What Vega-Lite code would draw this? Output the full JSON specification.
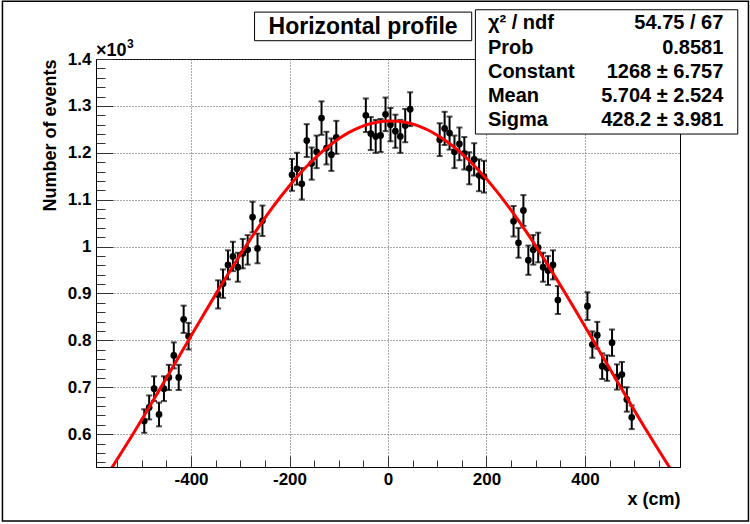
{
  "$schema": "https://vega.github.io/schema/vega-lite/v6.json",
  "width": 584,
  "height": 408,
  "autosize": "none",
  "padding": {"left": 96, "top": 59, "right": 70, "bottom": 57},
  "background": "white",
  "config": {"view": {"stroke": "black", "strokeWidth": 1}, "font": "Liberation Sans"},
  "datasets": {
    "hist": [
      {"x": -495, "y": 628, "err": 25.1}, {"x": -485, "y": 657, "err": 25.6}, {"x": -475, "y": 697, "err": 26.4}, {"x": -465, "y": 642, "err": 25.3}, {"x": -455, "y": 697, "err": 26.4},
      {"x": -445, "y": 721, "err": 26.9}, {"x": -435, "y": 768, "err": 27.7}, {"x": -425, "y": 721, "err": 26.9}, {"x": -415, "y": 845, "err": 29.1}, {"x": -405, "y": 809, "err": 28.4},
      {"x": -345, "y": 898, "err": 30.0}, {"x": -335, "y": 921, "err": 30.3}, {"x": -325, "y": 961, "err": 31.0}, {"x": -315, "y": 979, "err": 31.3}, {"x": -305, "y": 956, "err": 30.9},
      {"x": -295, "y": 985, "err": 31.4}, {"x": -285, "y": 993, "err": 31.5}, {"x": -275, "y": 1063, "err": 32.6}, {"x": -265, "y": 996, "err": 31.6}, {"x": -255, "y": 1055, "err": 32.5},
      {"x": -195, "y": 1153, "err": 34.0}, {"x": -185, "y": 1166, "err": 34.1}, {"x": -175, "y": 1134, "err": 33.7}, {"x": -165, "y": 1226, "err": 35.0}, {"x": -155, "y": 1177, "err": 34.3},
      {"x": -145, "y": 1202, "err": 34.7}, {"x": -135, "y": 1274, "err": 35.7}, {"x": -125, "y": 1210, "err": 34.8}, {"x": -115, "y": 1196, "err": 34.6}, {"x": -105, "y": 1233, "err": 35.1},
      {"x": -45, "y": 1280, "err": 35.8}, {"x": -35, "y": 1241, "err": 35.2}, {"x": -25, "y": 1235, "err": 35.1}, {"x": -15, "y": 1237, "err": 35.2}, {"x": -5, "y": 1282, "err": 35.8},
      {"x": 5, "y": 1260, "err": 35.5}, {"x": 15, "y": 1246, "err": 35.3}, {"x": 25, "y": 1235, "err": 35.1}, {"x": 35, "y": 1258, "err": 35.5}, {"x": 45, "y": 1293, "err": 36.0},
      {"x": 105, "y": 1228, "err": 35.0}, {"x": 115, "y": 1252, "err": 35.4}, {"x": 125, "y": 1242, "err": 35.2}, {"x": 135, "y": 1202, "err": 34.7}, {"x": 145, "y": 1219, "err": 34.9},
      {"x": 155, "y": 1199, "err": 34.6}, {"x": 165, "y": 1167, "err": 34.2}, {"x": 175, "y": 1186, "err": 34.4}, {"x": 185, "y": 1152, "err": 33.9}, {"x": 195, "y": 1149, "err": 33.9},
      {"x": 255, "y": 1054, "err": 32.5}, {"x": 265, "y": 1008, "err": 31.7}, {"x": 275, "y": 1077, "err": 32.8}, {"x": 285, "y": 971, "err": 31.2}, {"x": 295, "y": 993, "err": 31.5},
      {"x": 305, "y": 998, "err": 31.6}, {"x": 315, "y": 956, "err": 30.9}, {"x": 325, "y": 949, "err": 30.8}, {"x": 335, "y": 961, "err": 31.0}, {"x": 345, "y": 886, "err": 29.8},
      {"x": 405, "y": 873, "err": 29.5}, {"x": 415, "y": 791, "err": 28.1}, {"x": 425, "y": 811, "err": 28.5}, {"x": 435, "y": 745, "err": 27.3}, {"x": 445, "y": 741, "err": 27.2},
      {"x": 455, "y": 795, "err": 28.2}, {"x": 465, "y": 722, "err": 26.9}, {"x": 475, "y": 727, "err": 27.0}, {"x": 485, "y": 674, "err": 26.0}, {"x": 495, "y": 636, "err": 25.2}
    ],
    "fit": [
      {"x": -580, "y": 497.6}, {"x": -560, "y": 529.8}, {"x": -540, "y": 563.0}, {"x": -520, "y": 596.8}, {"x": -500, "y": 631.3}, {"x": -480, "y": 666.4},
      {"x": -460, "y": 701.9}, {"x": -440, "y": 737.7}, {"x": -420, "y": 773.6}, {"x": -400, "y": 809.5}, {"x": -380, "y": 845.2}, {"x": -360, "y": 880.5},
      {"x": -340, "y": 915.4}, {"x": -320, "y": 949.5}, {"x": -300, "y": 982.8}, {"x": -280, "y": 1015.0}, {"x": -260, "y": 1045.9}, {"x": -240, "y": 1075.5},
      {"x": -220, "y": 1103.6}, {"x": -200, "y": 1129.8}, {"x": -180, "y": 1154.2}, {"x": -160, "y": 1176.5}, {"x": -140, "y": 1196.7}, {"x": -120, "y": 1214.5},
      {"x": -100, "y": 1229.9}, {"x": -80, "y": 1242.9}, {"x": -60, "y": 1253.2}, {"x": -40, "y": 1260.8}, {"x": -20, "y": 1265.7}, {"x": 0, "y": 1267.9},
      {"x": 20, "y": 1267.3}, {"x": 40, "y": 1263.9}, {"x": 60, "y": 1257.8}, {"x": 80, "y": 1249.1}, {"x": 100, "y": 1237.6}, {"x": 120, "y": 1223.6},
      {"x": 140, "y": 1207.1}, {"x": 160, "y": 1188.3}, {"x": 180, "y": 1167.2}, {"x": 200, "y": 1144.0}, {"x": 220, "y": 1118.7}, {"x": 240, "y": 1091.7},
      {"x": 260, "y": 1063.0}, {"x": 280, "y": 1032.8}, {"x": 300, "y": 1001.2}, {"x": 320, "y": 968.5}, {"x": 340, "y": 934.9}, {"x": 360, "y": 900.4},
      {"x": 380, "y": 865.3}, {"x": 400, "y": 829.8}, {"x": 420, "y": 794.0}, {"x": 440, "y": 758.1}, {"x": 460, "y": 722.3}, {"x": 480, "y": 686.6},
      {"x": 500, "y": 651.3}, {"x": 520, "y": 616.4}, {"x": 540, "y": 582.2}, {"x": 560, "y": 548.6}, {"x": 580, "y": 515.6}
    ]
  },
  "resolve": {"axis": {"x": "independent", "y": "independent"}},
  "layer": [
    {
      "data": {"values": [{"k": 1}]},
      "mark": {"type": "rect", "fill": "white", "fillOpacity": 0, "stroke": "black", "strokeWidth": 1.5},
      "encoding": {
        "x": {"datum": -783, "type": "quantitative", "scale": {"domain": [-593, 593], "nice": false, "zero": false}, "axis": null},
        "x2": {"datum": 732},
        "y": {"datum": 415, "type": "quantitative", "scale": {"domain": [530, 1400], "nice": false, "zero": false}, "axis": null},
        "y2": {"datum": 1523}
      }
    },
    {
      "data": {"name": "fit"},
      "mark": {"type": "line", "opacity": 0, "clip": true},
      "encoding": {
        "x": {
          "field": "x", "type": "quantitative",
          "scale": {"domain": [-593, 593], "nice": false, "zero": false},
          "axis": {
            "orient": "bottom",
            "values": [-550, -500, -450, -350, -300, -250, -150, -100, -50, 50, 100, 150, 250, 300, 350, 450, 500, 550],
            "tickSize": -7, "tickColor": "#333", "tickWidth": 1,
            "labels": false, "domain": false, "grid": false, "title": null
          }
        },
        "y": {
          "field": "y", "type": "quantitative",
          "scale": {"domain": [530, 1400], "nice": false, "zero": false},
          "axis": {
            "orient": "left",
            "values": [540, 560, 580, 620, 640, 660, 680, 720, 740, 760, 780, 820, 840, 860, 880, 920, 940, 960, 980, 1020, 1040, 1060, 1080, 1120, 1140, 1160, 1180, 1220, 1240, 1260, 1280, 1320, 1340, 1360, 1380],
            "tickSize": -9, "tickColor": "#333", "tickWidth": 1,
            "labels": false, "domain": false, "grid": false, "title": null
          }
        }
      }
    },
    {
      "data": {"name": "hist"},
      "mark": {"type": "errorbar", "color": "black", "clip": true, "ticks": {"size": 6, "thickness": 2, "color": "black"}, "rule": {"strokeWidth": 2, "color": "black"}},
      "encoding": {
        "x": {"field": "x", "type": "quantitative", "scale": {"domain": [-593, 593], "nice": false, "zero": false}, "axis": null},
        "y": {"field": "y", "type": "quantitative", "scale": {"domain": [530, 1400], "nice": false, "zero": false}, "axis": null},
        "yError": {"field": "err"}
      }
    },
    {
      "data": {"name": "hist"},
      "mark": {"type": "circle", "color": "black", "opacity": 1, "size": 45, "clip": true},
      "encoding": {
        "x": {
          "field": "x", "type": "quantitative",
          "scale": {"domain": [-593, 593], "nice": false, "zero": false},
          "axis": {
            "orient": "bottom",
            "values": [-400, -200, 0, 200, 400],
            "tickSize": -11, "tickColor": "#333", "tickWidth": 1,
            "grid": true, "gridDash": [1, 2], "gridColor": "#555", "gridWidth": 1,
            "labelExpr": "'' + datum.value",
            "labelFont": "Liberation Sans", "labelFontSize": 17, "labelFontWeight": "bold", "labelColor": "black",
            "labelPadding": 15, "labelOverlap": false, "labelFlush": false,
            "domainColor": "black", "domainWidth": 1,
            "title": "x (cm)", "titleAnchor": "end", "titleFont": "Liberation Sans", "titleFontSize": 18, "titleFontWeight": "bold", "titleColor": "black", "titlePadding": 3
          }
        },
        "y": {
          "field": "y", "type": "quantitative",
          "scale": {"domain": [530, 1400], "nice": false, "zero": false},
          "axis": {
            "orient": "left",
            "values": [600, 700, 800, 900, 1000, 1100, 1200, 1300, 1400],
            "tickSize": -17, "tickColor": "#333", "tickWidth": 1,
            "grid": true, "gridDash": [1, 2], "gridColor": "#555", "gridWidth": 1,
            "labelExpr": "'' + datum.value / 1000",
            "labelFont": "Liberation Sans", "labelFontSize": 17, "labelFontWeight": "bold", "labelColor": "black",
            "labelPadding": 22, "labelOverlap": false, "labelFlush": false,
            "domainColor": "black", "domainWidth": 1,
            "title": "Number of events", "titleAnchor": "end", "titleFont": "Liberation Sans", "titleFontSize": 18, "titleFontWeight": "bold", "titleColor": "black", "titlePadding": 8
          }
        }
      }
    },
    {
      "data": {"name": "fit"},
      "mark": {"type": "line", "color": "#ff0000", "strokeWidth": 3, "interpolate": "monotone", "clip": true},
      "encoding": {
        "x": {"field": "x", "type": "quantitative", "scale": {"domain": [-593, 593], "nice": false, "zero": false}, "axis": null},
        "y": {"field": "y", "type": "quantitative", "scale": {"domain": [530, 1400], "nice": false, "zero": false}, "axis": null}
      }
    },
    {
      "data": {"values": [{"k": 1}]},
      "mark": {"type": "rect", "fill": "white", "stroke": "black", "strokeWidth": 1},
      "encoding": {
        "x": {"datum": -271, "type": "quantitative", "axis": null},
        "x2": {"datum": 170},
        "y": {"datum": 1439, "type": "quantitative", "axis": null},
        "y2": {"datum": 1500}
      }
    },
    {
      "data": {"values": [{"k": 1}]},
      "mark": {"type": "text", "text": "Horizontal profile", "font": "Liberation Sans", "fontSize": 23, "fontWeight": "bold", "color": "black", "align": "center", "baseline": "middle"},
      "encoding": {
        "x": {"datum": -50.6, "type": "quantitative", "axis": null},
        "y": {"datum": 1469, "type": "quantitative", "axis": null}
      }
    },
    {
      "data": {"values": [{"k": 1}]},
      "mark": {"type": "rect", "fill": "white", "stroke": "black", "strokeWidth": 1},
      "encoding": {
        "x": {"datum": 177.5, "type": "quantitative", "axis": null},
        "x2": {"datum": 710.3},
        "y": {"datum": 1240, "type": "quantitative", "axis": null},
        "y2": {"datum": 1505}
      }
    },
    {
      "data": {"values": [{"k": 1}]},
      "mark": {"type": "text", "text": ["χ² / ndf", "Prob", "Constant", "Mean", "Sigma"], "lineHeight": 24.2, "font": "Liberation Sans", "fontSize": 20, "fontWeight": "bold", "color": "black", "align": "left", "baseline": "middle"},
      "encoding": {
        "x": {"datum": 203, "type": "quantitative", "axis": null},
        "y": {"datum": 1476, "type": "quantitative", "axis": null}
      }
    },
    {
      "data": {"values": [{"k": 1}]},
      "mark": {"type": "text", "text": ["54.75 / 67", "0.8581", "1268 ± 6.757", "5.704 ± 2.524", "428.2 ± 3.981"], "lineHeight": 24.2, "font": "Liberation Sans", "fontSize": 20, "fontWeight": "bold", "color": "black", "align": "right", "baseline": "middle"},
      "encoding": {
        "x": {"datum": 681, "type": "quantitative", "axis": null},
        "y": {"datum": 1476, "type": "quantitative", "axis": null}
      }
    },
    {
      "data": {"values": [{"k": 1}]},
      "mark": {"type": "text", "text": "×10", "font": "Liberation Sans", "fontSize": 18, "fontWeight": "bold", "color": "black", "align": "left", "baseline": "alphabetic"},
      "encoding": {
        "x": {"datum": -593, "type": "quantitative", "axis": null},
        "y": {"datum": 1407, "type": "quantitative", "axis": null}
      }
    },
    {
      "data": {"values": [{"k": 1}]},
      "mark": {"type": "text", "text": "3", "font": "Liberation Sans", "fontSize": 12, "fontWeight": "bold", "color": "black", "align": "left", "baseline": "alphabetic"},
      "encoding": {
        "x": {"datum": -530, "type": "quantitative", "axis": null},
        "y": {"datum": 1423, "type": "quantitative", "axis": null}
      }
    }
  ]
}
